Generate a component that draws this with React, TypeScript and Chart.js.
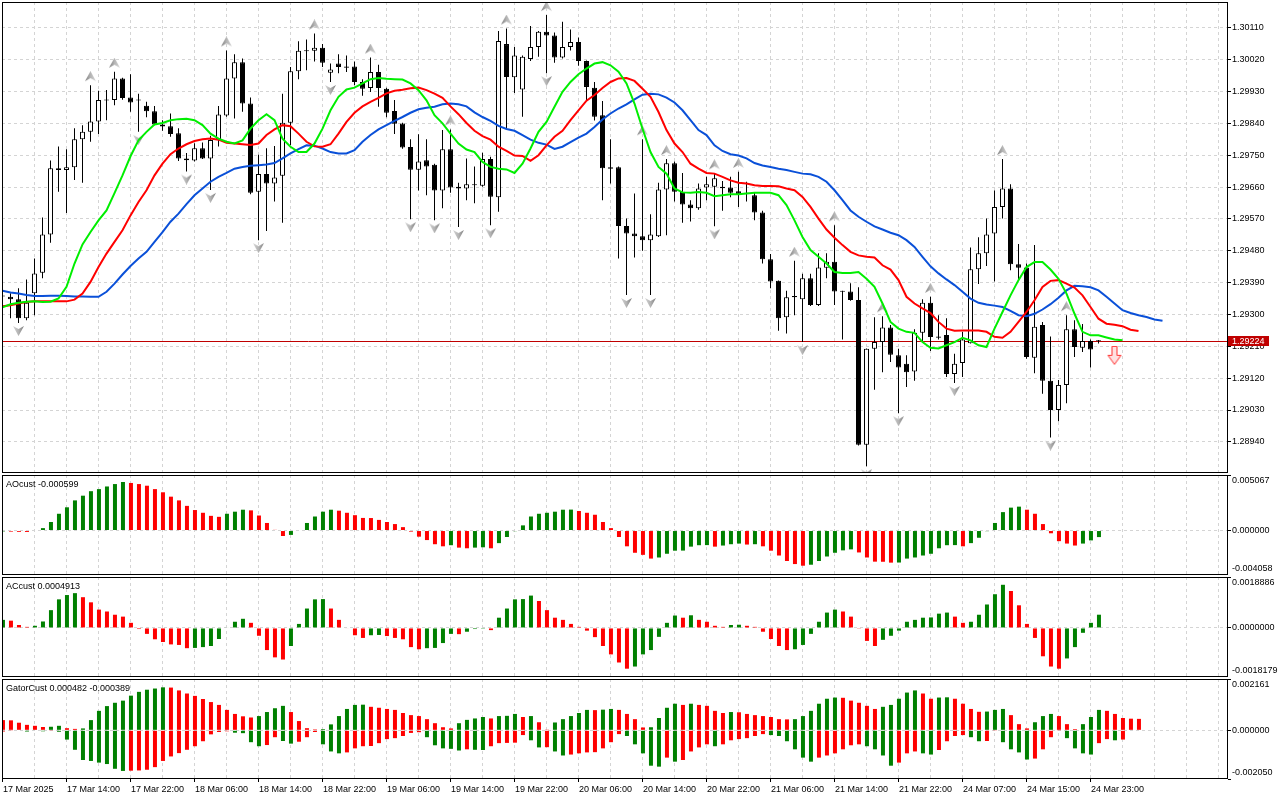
import React, { useEffect, useRef } from "react";
import { Chart, registerables } from "chart.js";

Chart.register(...registerables);

// ---------------- data ----------------
const timeLabels = [
  "17 Mar 2025", "17 Mar 14:00", "17 Mar 22:00", "18 Mar 06:00", "18 Mar 14:00", "18 Mar 22:00",
  "19 Mar 06:00", "19 Mar 14:00", "19 Mar 22:00", "20 Mar 06:00", "20 Mar 14:00", "20 Mar 22:00",
  "21 Mar 06:00", "21 Mar 14:00", "21 Mar 22:00", "24 Mar 07:00", "24 Mar 15:00", "24 Mar 23:00",
];
const labelEvery = 8;
const gridEvery = 4;

const open = [
  1.29353, 1.29350, 1.29343, 1.29289, 1.29360, 1.29418, 1.29526, 1.29713, 1.29708, 1.29716,
  1.29795, 1.29816, 1.29845, 1.29907, 1.29906, 1.29967, 1.29913, 1.29907, 1.29890, 1.29874,
  1.29837, 1.29832, 1.29812, 1.29741, 1.29735, 1.29770, 1.29741, 1.29793, 1.29862, 1.29967,
  1.30013, 1.29896, 1.29647, 1.29697, 1.29670, 1.29692, 1.29842, 1.29987, 1.30046, 1.30045,
  1.30054, 1.29983, 1.30009, 1.30001, 1.30001, 1.29957, 1.29940, 1.29985, 1.29938, 1.29875,
  1.29840, 1.29773, 1.29709, 1.29736, 1.29723, 1.29650, 1.29767, 1.29661, 1.29656, 1.29668,
  1.29664, 1.29739, 1.29631, 1.30064, 1.29970, 1.29936, 1.30022, 1.30056, 1.30099, 1.30088,
  1.30026, 1.30056, 1.30070, 1.30016, 1.29941, 1.29863, 1.29716, 1.29716, 1.29550, 1.29529,
  1.29521, 1.29510, 1.29521, 1.29653, 1.29727, 1.29647, 1.29611, 1.29600, 1.29659, 1.29661,
  1.29661, 1.29659, 1.29648, 1.29644, 1.29637, 1.29588, 1.29456, 1.29395, 1.29292, 1.29352,
  1.29343, 1.29402, 1.29327, 1.29432, 1.29449, 1.29366, 1.29365, 1.29341, 1.28932, 1.29203,
  1.29222, 1.29263, 1.29185, 1.29161, 1.29139, 1.29248, 1.29333, 1.29238, 1.29242, 1.29132,
  1.29163, 1.29219, 1.29428, 1.29473, 1.29529, 1.29604, 1.29656, 1.29442, 1.29433, 1.29178,
  1.29270, 1.29113, 1.29030, 1.29101, 1.29258, 1.29206, 1.29225, 1.29226,
];
const high = [
  1.29358, 1.29360, 1.29374, 1.29399, 1.29458, 1.29574, 1.29735, 1.29775, 1.29767, 1.29826,
  1.29835, 1.29948, 1.29932, 1.29934, 1.29986, 1.29969, 1.29979, 1.29924, 1.29901, 1.29889,
  1.29849, 1.29868, 1.29826, 1.29756, 1.29784, 1.29786, 1.29805, 1.29889, 1.30046, 1.30035,
  1.30023, 1.29913, 1.29751, 1.29770, 1.29776, 1.29924, 1.29999, 1.30072, 1.30077, 1.30094,
  1.30064, 1.30009, 1.30035, 1.30032, 1.30015, 1.29965, 1.30026, 1.30006, 1.29941, 1.29906,
  1.29842, 1.29795, 1.29809, 1.29795, 1.29726, 1.29821, 1.29823, 1.29672, 1.29741, 1.29718,
  1.29757, 1.29746, 1.30101, 1.30108, 1.30056, 1.30032, 1.30115, 1.30101, 1.30146, 1.30097,
  1.30127, 1.30105, 1.30083, 1.30018, 1.29957, 1.29903, 1.29795, 1.29718, 1.29571, 1.29642,
  1.29795, 1.29583, 1.29672, 1.29739, 1.29732, 1.29700, 1.29623, 1.29670, 1.29689, 1.29699,
  1.29677, 1.29689, 1.29703, 1.29675, 1.29644, 1.29593, 1.29471, 1.29396, 1.29367, 1.29452,
  1.29415, 1.29415, 1.29473, 1.29473, 1.29552, 1.29367, 1.29388, 1.29377, 1.29204, 1.29292,
  1.29295, 1.29270, 1.29203, 1.29185, 1.29258, 1.29343, 1.29350, 1.29298, 1.29289, 1.29189,
  1.29251, 1.29489, 1.29518, 1.29571, 1.29650, 1.29739, 1.29668, 1.29499, 1.29444, 1.29496,
  1.29279, 1.29238, 1.29115, 1.29298, 1.29284, 1.29273, 1.29229, 1.29228,
];
const low = [
  1.29347, 1.29289, 1.29276, 1.29284, 1.29298, 1.29402, 1.29503, 1.29647, 1.29587, 1.29680,
  1.29672, 1.29788, 1.29810, 1.29849, 1.29891, 1.29907, 1.29873, 1.29816, 1.29857, 1.29835,
  1.29819, 1.29802, 1.29734, 1.29704, 1.29732, 1.29739, 1.29652, 1.29775, 1.29859, 1.29854,
  1.29873, 1.29640, 1.29510, 1.29536, 1.29619, 1.29559, 1.29779, 1.29965, 1.29990, 1.30015,
  1.29999, 1.29957, 1.29982, 1.29985, 1.29948, 1.29918, 1.29929, 1.29887, 1.29857, 1.29810,
  1.29768, 1.29569, 1.29650, 1.29637, 1.29566, 1.29600, 1.29644, 1.29547, 1.29623, 1.29614,
  1.29661, 1.29552, 1.29590, 1.29821, 1.29926, 1.29859, 1.30016, 1.30028, 1.29982, 1.30011,
  1.30023, 1.30046, 1.30003, 1.29906, 1.29848, 1.29623, 1.29670, 1.29458, 1.29355, 1.29461,
  1.29480, 1.29355, 1.29519, 1.29524, 1.29619, 1.29559, 1.29563, 1.29596, 1.29623, 1.29549,
  1.29593, 1.29631, 1.29604, 1.29619, 1.29566, 1.29444, 1.29374, 1.29254, 1.29246, 1.29298,
  1.29222, 1.29324, 1.29324, 1.29402, 1.29327, 1.29229, 1.29339, 1.28930, 1.28871, 1.29087,
  1.29137, 1.29166, 1.29021, 1.29095, 1.29113, 1.29222, 1.29197, 1.29229, 1.29123, 1.29106,
  1.29123, 1.29218, 1.29386, 1.29437, 1.29393, 1.29571, 1.29425, 1.29399, 1.29175, 1.29134,
  1.29076, 1.28952, 1.28998, 1.29049, 1.29180, 1.29194, 1.29150, 1.29218,
];
const close = [
  1.29351, 1.29343, 1.29289, 1.29333, 1.29416, 1.29526, 1.29713, 1.29708, 1.29716, 1.29795,
  1.29816, 1.29845, 1.29906, 1.29905, 1.29967, 1.29912, 1.29899, 1.29905, 1.29874, 1.29837,
  1.29831, 1.29810, 1.29741, 1.29736, 1.29770, 1.29741, 1.29793, 1.29865, 1.29967, 1.30013,
  1.29896, 1.29644, 1.29697, 1.29670, 1.29687, 1.29842, 1.29987, 1.30045, 1.30044, 1.30054,
  1.30011, 1.29992, 1.29999, 1.29997, 1.29957, 1.29938, 1.29985, 1.29940, 1.29870, 1.29839,
  1.29772, 1.29709, 1.29732, 1.29718, 1.29650, 1.29767, 1.29659, 1.29656, 1.29668, 1.29665,
  1.29739, 1.29633, 1.30073, 1.29971, 1.30032, 1.30028, 1.30056, 1.30099, 1.30088, 1.30026,
  1.30056, 1.30070, 1.30016, 1.29943, 1.29859, 1.29713, 1.29712, 1.29550, 1.29529, 1.29521,
  1.29510, 1.29526, 1.29653, 1.29727, 1.29647, 1.29611, 1.29600, 1.29656, 1.29668, 1.29685,
  1.29657, 1.29644, 1.29640, 1.29641, 1.29588, 1.29456, 1.29393, 1.29289, 1.29349, 1.29349,
  1.29402, 1.29327, 1.29433, 1.29449, 1.29365, 1.29364, 1.29341, 1.28932, 1.29203, 1.29222,
  1.29263, 1.29186, 1.29150, 1.29137, 1.29248, 1.29333, 1.29236, 1.29234, 1.29132, 1.29161,
  1.29229, 1.29428, 1.29473, 1.29526, 1.29604, 1.29656, 1.29442, 1.29432, 1.29180, 1.29265,
  1.29113, 1.29030, 1.29101, 1.29258, 1.29208, 1.29225, 1.29201, 1.29224,
];

// Alligator (already shifted: jaw +8, teeth +5, lips +3 bars)
const jaw = [
  1.29367, 1.29362, 1.29359, 1.29355, 1.29352, 1.29352, 1.29353, 1.29353, 1.29352, 1.29351,
  1.29351, 1.29350, 1.29350, 1.29364, 1.29387, 1.29413, 1.29437, 1.29458, 1.29477, 1.29505,
  1.29533, 1.29562, 1.29585, 1.29612, 1.29637, 1.29656, 1.29675, 1.29689, 1.29700, 1.29712,
  1.29717, 1.29720, 1.29722, 1.29724, 1.29728, 1.29741, 1.29755, 1.29767, 1.29778, 1.29777,
  1.29769, 1.29759, 1.29755, 1.29755, 1.29764, 1.29788, 1.29807, 1.29823, 1.29835, 1.29847,
  1.29858, 1.29870, 1.29880, 1.29884, 1.29887, 1.29894, 1.29896, 1.29894, 1.29888, 1.29871,
  1.29858, 1.29847, 1.29833, 1.29824, 1.29819, 1.29807, 1.29794, 1.29785, 1.29780, 1.29768,
  1.29774, 1.29787, 1.29800, 1.29811, 1.29830, 1.29851, 1.29868, 1.29882, 1.29894, 1.29908,
  1.29921, 1.29924, 1.29922, 1.29913, 1.29899, 1.29877, 1.29849, 1.29821, 1.29807, 1.29778,
  1.29762, 1.29753, 1.29749, 1.29741, 1.29728, 1.29721, 1.29717, 1.29712, 1.29708, 1.29703,
  1.29698, 1.29696, 1.29689, 1.29675, 1.29651, 1.29623, 1.29594, 1.29576, 1.29562, 1.29549,
  1.29540, 1.29531, 1.29524, 1.29510, 1.29491, 1.29463, 1.29436, 1.29416, 1.29399, 1.29383,
  1.29364, 1.29345, 1.29333, 1.29328, 1.29325, 1.29321, 1.29310, 1.29298, 1.29295, 1.29302,
  1.29314, 1.29329, 1.29347, 1.29368, 1.29381, 1.29380, 1.29377, 1.29368, 1.29350, 1.29331,
  1.29312, 1.29304, 1.29298, 1.29293, 1.29286, 1.29282,
];
const teeth = [
  1.29323, 1.29326, 1.29331, 1.29335, 1.29337, 1.29337, 1.29337, 1.29337, 1.29337, 1.29342,
  1.29359, 1.29392, 1.29434, 1.29472, 1.29505, 1.29538, 1.29580, 1.29618, 1.29651, 1.29693,
  1.29726, 1.29753, 1.29769, 1.29781, 1.29790, 1.29795, 1.29797, 1.29794, 1.29785, 1.29783,
  1.29781, 1.29779, 1.29783, 1.29807, 1.29823, 1.29835, 1.29832, 1.29811, 1.29788, 1.29775,
  1.29774, 1.29781, 1.29811, 1.29844, 1.29870, 1.29888, 1.29901, 1.29912, 1.29925, 1.29932,
  1.29935, 1.29939, 1.29941, 1.29934, 1.29924, 1.29912, 1.29888, 1.29866, 1.29841, 1.29819,
  1.29804, 1.29794, 1.29774, 1.29762, 1.29749, 1.29748, 1.29734, 1.29750, 1.29778, 1.29802,
  1.29819, 1.29849, 1.29877, 1.29904, 1.29920, 1.29940, 1.29957, 1.29967, 1.29968, 1.29960,
  1.29938, 1.29915, 1.29872, 1.29821, 1.29783, 1.29759, 1.29726, 1.29712, 1.29700, 1.29698,
  1.29689, 1.29679, 1.29672, 1.29670, 1.29665, 1.29663, 1.29663, 1.29662, 1.29656, 1.29651,
  1.29632, 1.29604, 1.29571, 1.29540, 1.29517, 1.29496, 1.29477, 1.29467, 1.29463, 1.29461,
  1.29439, 1.29427, 1.29397, 1.29350, 1.29331, 1.29317, 1.29304, 1.29279, 1.29260, 1.29254,
  1.29255, 1.29255, 1.29255, 1.29251, 1.29237, 1.29234, 1.29251, 1.29279, 1.29307, 1.29340,
  1.29378, 1.29395, 1.29397, 1.29387, 1.29376, 1.29354, 1.29321, 1.29288, 1.29274, 1.29271,
  1.29267, 1.29257, 1.29253,
];
const lips = [
  1.29320, 1.29329, 1.29333, 1.29336, 1.29337, 1.29335, 1.29336, 1.29345, 1.29378, 1.29444,
  1.29498, 1.29533, 1.29566, 1.29594, 1.29643, 1.29693, 1.29747, 1.29792, 1.29816, 1.29837,
  1.29841, 1.29849, 1.29852, 1.29853, 1.29849, 1.29835, 1.29811, 1.29797, 1.29788, 1.29783,
  1.29792, 1.29825, 1.29849, 1.29866, 1.29849, 1.29797, 1.29774, 1.29759, 1.29759, 1.29783,
  1.29825, 1.29877, 1.29915, 1.29936, 1.29941, 1.29953, 1.29965, 1.29968, 1.29966, 1.29965,
  1.29964, 1.29953, 1.29934, 1.29905, 1.29863, 1.29840, 1.29811, 1.29783, 1.29766, 1.29759,
  1.29731, 1.29717, 1.29712, 1.29710, 1.29700, 1.29726, 1.29769, 1.29816, 1.29844, 1.29887,
  1.29929, 1.29957, 1.29979, 1.29995, 1.30009, 1.30013, 1.30004, 1.29986, 1.29953, 1.29896,
  1.29825, 1.29759, 1.29717, 1.29698, 1.29656, 1.29645, 1.29644, 1.29646, 1.29644, 1.29634,
  1.29637, 1.29640, 1.29640, 1.29642, 1.29644, 1.29644, 1.29644, 1.29637, 1.29609, 1.29566,
  1.29519, 1.29482, 1.29463, 1.29444, 1.29420, 1.29417, 1.29417, 1.29420, 1.29401, 1.29378,
  1.29331, 1.29279, 1.29260, 1.29251, 1.29248, 1.29222, 1.29206, 1.29204, 1.29213, 1.29222,
  1.29234, 1.29227, 1.29213, 1.29208, 1.29260, 1.29307, 1.29354, 1.29397, 1.29434, 1.29448,
  1.29448, 1.29427, 1.29401, 1.29359, 1.29302, 1.29251, 1.29241, 1.29241, 1.29235, 1.29229,
  1.29227,
];

const upFractals = [11, 14, 28, 39, 46, 56, 63, 68, 80, 83, 89, 92, 99, 104, 110, 116, 125, 133];
const downFractals = [2, 17, 23, 26, 32, 41, 51, 54, 57, 61, 68, 78, 81, 89, 100, 108, 112, 119, 131];
const signalBars = [139];
const signalPrices = [1.29183];
const currentPrice = 1.29224;

const priceRange = [1.28852, 1.30183];
const priceTicks = [
  1.2894, 1.2903, 1.2912, 1.2921, 1.293, 1.2939, 1.2948, 1.2957, 1.2966, 1.2975, 1.2984, 1.2993, 1.3002, 1.3011,
];

const aoValues = [
  -0.00008, -0.0001, -0.00012, -0.00013, 0.00005, 0.00022, 0.00078, 0.00153, 0.00212, 0.00275,
  0.00318, 0.00359, 0.00378, 0.00402, 0.00424, 0.00443, 0.00434, 0.00424, 0.00409, 0.00378,
  0.00349, 0.00309, 0.00275, 0.00225, 0.00187, 0.00162, 0.00134, 0.00125, 0.00153, 0.00172,
  0.0019, 0.00184, 0.00137, 0.00069, 0.00006, -0.0005, -0.0004, 0.00005, 0.00069, 0.00128,
  0.00172, 0.0019, 0.00181, 0.00162, 0.0014, 0.00115, 0.00114, 0.00097, 0.00078, 0.00059,
  0.00031, -0.0001, -0.00056, -0.00087, -0.00125, -0.00144, -0.00134, -0.00156, -0.00162, -0.00156,
  -0.00153, -0.00162, -0.00115, -0.00059, -0.00006, 0.00047, 0.00128, 0.00153, 0.00162, 0.00172,
  0.0019, 0.00191, 0.00178, 0.00162, 0.00144, 0.00078, 0.00022, -0.00059, -0.00144, -0.00203,
  -0.00222, -0.00256, -0.00246, -0.00212, -0.00184, -0.00183, -0.00147, -0.00134, -0.00133, -0.00147,
  -0.00137, -0.00125, -0.00119, -0.00128, -0.00125, -0.00144, -0.00184, -0.00228, -0.00278, -0.00306,
  -0.00321, -0.00312, -0.00278, -0.00237, -0.00203, -0.00181, -0.00172, -0.002, -0.00246, -0.00284,
  -0.00285, -0.00293, -0.00292, -0.00256, -0.00246, -0.00228, -0.00212, -0.00162, -0.00134, -0.00133,
  -0.00144, -0.00115, -0.00066, -0.00006, 0.00069, 0.00168, 0.00209, 0.00218, 0.0019, 0.00153,
  0.00059, -0.00025, -0.00097, -0.00119, -0.00137, -0.00119, -0.0009, -0.000599,
];
const aoRange = [-0.004058, 0.005067];

const acValues = [
  0.0003, 0.00027, 0.00011, 0.00004, 0.00008, 0.00024, 0.00066, 0.00106, 0.00122, 0.00129,
  0.00114, 0.00095, 0.00068, 0.00061, 0.00049, 0.00042, 0.00019, -0.00004, -0.00022, -0.00042,
  -0.00052, -0.00061, -0.00063, -0.00075, -0.00074, -0.00071, -0.00067, -0.00041, 0.00002, 0.00023,
  0.00034, 0.00019, -0.00029, -0.00082, -0.00109, -0.00117, -0.00067, 0.00015, 0.00072, 0.00106,
  0.00107, 0.00072, 0.0003, -0.00002, -0.00027, -0.00037, -0.00027, -0.00026, -0.0003, -0.00037,
  -0.00042, -0.00071, -0.00079, -0.00075, -0.00074, -0.00056, -0.00022, -0.00023, -0.00014, -0.00004,
  -0.00003, -0.00008, 0.00038, 0.00072, 0.00106, 0.00107, 0.0012, 0.001, 0.00066, 0.00038,
  0.0003, 0.00015, 0.00004, -0.0001, -0.00034, -0.00067, -0.00098, -0.00128, -0.00151, -0.00143,
  -0.00098, -0.00082, -0.00033, 0.00019, 0.00046, 0.00038, 0.00047, 0.0003, 0.00023, 0.00008,
  0.00004, 0.00011, 0.00012, 0.00008, 0.00004, -0.00014, -0.00041, -0.00067, -0.00082, -0.00079,
  -0.00063, -0.00022, 0.00023, 0.00057, 0.00068, 0.00061, 0.00042, -0.00001, -0.00048, -0.00067,
  -0.00044, -0.00029, -0.0001, 0.00023, 0.0003, 0.00038, 0.00039, 0.00053, 0.00057, 0.00042,
  0.00019, 0.00023, 0.00049, 0.00087, 0.00125, 0.0016, 0.00137, 0.00084, 0.00015, -0.00037,
  -0.00105, -0.00143, -0.00151, -0.00113, -0.00071, -0.00018, 0.00019, 0.0004913,
];
const acRange = [-0.0018179, 0.0018886];

const gatorUpper = [
  0.00043, 0.00042, 0.00032, 0.00023, 0.00019, 0.00014, 0.00015, 0.00019, 0.00009, 0.00006,
  0.00008, 0.00043, 0.00082, 0.00102, 0.00116, 0.00125, 0.00146, 0.00162, 0.00171, 0.00176,
  0.00181, 0.0018, 0.00168, 0.00155, 0.00145, 0.00132, 0.00119, 0.00107, 0.00086, 0.00069,
  0.00059, 0.00054, 0.0006, 0.00077, 0.00093, 0.00103, 0.00077, 0.00039, 0.00009, 0.00004,
  0.00005, 0.00025, 0.0006, 0.0009, 0.00107, 0.00108, 0.00099, 0.00095, 0.0009, 0.00086,
  0.00073, 0.00064, 0.0006, 0.00047, 0.0003, 0.00013, 0.00008, 0.0003, 0.00044, 0.0005,
  0.00056, 0.0005, 0.0006, 0.00061, 0.00069, 0.00056, 0.0006, 0.00034, 0.00003, 0.00033,
  0.00047, 0.0006, 0.00073, 0.00086, 0.00085, 0.00087, 0.0009, 0.00086, 0.00069, 0.00047,
  0.00012, 0.00013, 0.00052, 0.00095, 0.00112, 0.00107, 0.00112, 0.00107, 0.00103, 0.00082,
  0.00073, 0.00077, 0.00076, 0.00069, 0.00064, 0.0006, 0.00056, 0.00047, 0.00046, 0.00047,
  0.0006, 0.00082, 0.00112, 0.00133, 0.00138, 0.00137, 0.00125, 0.00116, 0.00103, 0.0009,
  0.00099, 0.00107, 0.00133, 0.00159, 0.00168, 0.00155, 0.00133, 0.00138, 0.00139, 0.00133,
  0.00112, 0.0009, 0.00078, 0.00079, 0.00086, 0.0009, 0.00064, 0.00026, 0.00008, 0.00034,
  0.0006, 0.00069, 0.0006, 0.00026, 0.00005, 0.00026, 0.00056, 0.00086, 0.00082, 0.00069,
  0.00052, 0.00049, 0.000482,
];
const gatorLower = [
  -0.00005, -0.00003, -0.00002, -0.00005, -0.00002, -0.00004, -0.00003, -0.00006, -0.00039, -0.00082,
  -0.00125, -0.00129, -0.00136, -0.00142, -0.00162, -0.00171, -0.0017, -0.00169, -0.00166, -0.00155,
  -0.00129, -0.0011, -0.00096, -0.00082, -0.00067, -0.00046, -0.00017, -0.00007, -0.00004, -0.0001,
  -0.00012, -0.0005, -0.00067, -0.00062, -0.00029, -0.00045, -0.00056, -0.00048, -0.00029, -0.00007,
  -0.00059, -0.00089, -0.00097, -0.00093, -0.00076, -0.00067, -0.00066, -0.00054, -0.00037, -0.00033,
  -0.00024, -0.00011, -0.00008, -0.00029, -0.00063, -0.00076, -0.00078, -0.00085, -0.0008, -0.00082,
  -0.00083, -0.00067, -0.00054, -0.00053, -0.00052, -0.0002, -0.00042, -0.00072, -0.00071, -0.00089,
  -0.00106, -0.00102, -0.00097, -0.00093, -0.00092, -0.00076, -0.0005, -0.00016, -0.00024, -0.00059,
  -0.00097, -0.00149, -0.00153, -0.00115, -0.00132, -0.00125, -0.00089, -0.00072, -0.00059, -0.00067,
  -0.00059, -0.00042, -0.00037, -0.00033, -0.00024, -0.00016, -0.0002, -0.00024, -0.00046, -0.0008,
  -0.00115, -0.00132, -0.00115, -0.00106, -0.00097, -0.0008, -0.00063, -0.00059, -0.00067, -0.0008,
  -0.00106, -0.00149, -0.00136, -0.00097, -0.00089, -0.00097, -0.00102, -0.00083, -0.00046, -0.00024,
  -0.0002, -0.00029, -0.00046, -0.00045, -0.00003, -0.0005, -0.0008, -0.00093, -0.00123, -0.00119,
  -0.0008, -0.00029, -0.00003, -0.00033, -0.00076, -0.00097, -0.00102, -0.00054, -0.00037, -0.00042,
  -0.000389,
];
const gatorRange = [-0.00205, 0.002161];

// ---------------- style ----------------
const FONT = "'Liberation Sans', Arial, sans-serif";
const GRID = "#d4d4d4";
const DASH = [3, 3];
const GREEN = "#008000";
const RED = "#ff0000";
const BID = "#c00000";
const AXIS_W = 52;
const SPAN = 153.25; // bars visible across the plot width (8 px per bar)
const MAIN_X_MIN = -0.0625;
const IND_X_MIN = -0.12;

const pts = (vals: number[]) => vals.map((y, i) => ({ x: i, y }));

function noPad(s: any) {
  s.paddingTop = 0;
  s.paddingBottom = 0;
  s.paddingLeft = 0;
  s.paddingRight = 0;
}

function xAxis(min: number, withLabels: boolean) {
  const labelAt = (v: number) => {
    if (v % labelEvery !== 0) return "";
    const k = v / labelEvery;
    return k >= 0 && k < timeLabels.length ? timeLabels[k] : "";
  };
  return {
    type: "linear",
    min,
    max: min + SPAN,
    offset: false,
    afterBuildTicks: (s: any) => {
      const t: any[] = [];
      for (let v = 0; v <= min + SPAN; v += gridEvery) t.push({ value: v });
      s.ticks = t;
    },
    afterFit: (s: any) => {
      noPad(s);
      s.height = withLabels ? 21 : 0;
    },
    grid: {
      offset: false,
      color: GRID,
      lineWidth: 1,
      drawTicks: withLabels,
      tickLength: 3,
      tickColor: (c: any) => (c.tick && labelAt(c.tick.value) ? "#000" : "rgba(0,0,0,0)"),
    },
    border: { display: false, dash: DASH },
    ticks: {
      display: withLabels,
      autoSkip: false,
      maxRotation: 0,
      minRotation: 0,
      align: "start",
      padding: 2,
      color: "#000",
      font: { family: FONT, size: 9 },
      callback: (v: number) => labelAt(v),
    },
  };
}

function indicatorY(range: number[], decimals: number) {
  return {
    position: "right",
    min: range[0],
    max: range[1],
    afterBuildTicks: (s: any) => {
      s.ticks = [{ value: range[0] }, { value: 0 }, { value: range[1] }];
    },
    afterFit: (s: any) => {
      noPad(s);
      s.width = AXIS_W;
    },
    grid: {
      color: (c: any) => (c.tick && c.tick.value === 0 ? GRID : "rgba(0,0,0,0)"),
      tickLength: 3,
      tickColor: "#000",
    },
    border: { display: false, dash: DASH },
    ticks: {
      autoSkip: false,
      padding: 1,
      color: "#000",
      font: { family: FONT, size: 9, lineHeight: "12px" },
      callback: (v: number) => {
        const s = v.toFixed(decimals);
        if (v === range[1]) return ["", s];
        if (v === range[0]) return [s, ""];
        return s;
      },
    },
  };
}

function strokeFrame(ctx: CanvasRenderingContext2D, a: any) {
  ctx.save();
  ctx.strokeStyle = "#000";
  ctx.lineWidth = 1;
  ctx.strokeRect(a.left + 0.5, a.top + 0.5, a.right - a.left - 1, a.bottom - a.top - 1);
  ctx.restore();
}

function framePlugin(title: string) {
  return {
    id: "paneFrame",
    afterDraw(chart: any) {
      const { ctx, chartArea: a } = chart;
      strokeFrame(ctx, a);
      ctx.save();
      ctx.fillStyle = "#000";
      ctx.font = `9px ${FONT}`;
      ctx.textBaseline = "middle";
      ctx.textAlign = "left";
      ctx.fillText(title, a.left + 4, a.top + 9.5);
      ctx.restore();
    },
  };
}

function makeArrow(kind: "up" | "down" | "signal"): HTMLCanvasElement {
  const c = document.createElement("canvas");
  const g = c.getContext("2d") as CanvasRenderingContext2D;
  if (kind === "up") {
    c.width = 11; c.height = 28;
    const grad = g.createLinearGradient(0, 0, 11, 0);
    grad.addColorStop(0, "#7c7c7c"); grad.addColorStop(0.5, "#b4b4b4"); grad.addColorStop(1, "#d4d4d4");
    g.fillStyle = grad;
    g.beginPath(); g.moveTo(5.5, 0); g.lineTo(11, 10); g.lineTo(5.5, 7); g.lineTo(0, 10); g.closePath(); g.fill();
  } else if (kind === "down") {
    c.width = 11; c.height = 26;
    const grad = g.createLinearGradient(0, 0, 11, 0);
    grad.addColorStop(0, "#d4d4d4"); grad.addColorStop(0.5, "#b4b4b4"); grad.addColorStop(1, "#7c7c7c");
    g.fillStyle = grad;
    g.beginPath(); g.moveTo(0, 16); g.lineTo(5.5, 19); g.lineTo(11, 16); g.lineTo(5.5, 26); g.closePath(); g.fill();
  } else {
    c.width = 16; c.height = 20;
    g.fillStyle = "#ffe2e2";
    g.strokeStyle = "#ff3030";
    g.lineWidth = 1;
    g.beginPath();
    g.moveTo(5.5, 0.5); g.lineTo(10.5, 0.5); g.lineTo(10.5, 9.5); g.lineTo(14.5, 9.5);
    g.lineTo(8, 18.5); g.lineTo(1.5, 9.5); g.lineTo(5.5, 9.5); g.closePath();
    g.fill(); g.stroke();
  }
  return c;
}

const upColors = (vals: number[], firstUp: boolean) =>
  vals.map((v, i) => ((i === 0 ? firstUp : v >= vals[i - 1]) ? GREEN : RED));
const growColors = (vals: number[], firstUp: boolean) =>
  vals.map((v, i) => ((i === 0 ? firstUp : Math.abs(v) >= Math.abs(vals[i - 1])) ? GREEN : RED));

const commonOpts = {
  responsive: false,
  animation: false,
  events: [],
  plugins: { legend: { display: false }, tooltip: { enabled: false }, title: { display: false } },
};

export default function App() {
  const mainRef = useRef<HTMLCanvasElement>(null);
  const aoRef = useRef<HTMLCanvasElement>(null);
  const acRef = useRef<HTMLCanvasElement>(null);
  const gatorRef = useRef<HTMLCanvasElement>(null);

  useEffect(() => {
    const charts: Chart[] = [];
    const idx = open.map((_, i) => i);
    const upArrow = makeArrow("up");
    const downArrow = makeArrow("down");
    const signalArrow = makeArrow("signal");

    const mainDecor = {
      id: "mainDecor",
      beforeDatasetsDraw(chart: any) {
        const { ctx, chartArea: a, scales } = chart;
        const y = Math.round(scales.y.getPixelForValue(currentPrice)) + 0.5;
        ctx.save();
        ctx.strokeStyle = BID;
        ctx.lineWidth = 1;
        ctx.beginPath(); ctx.moveTo(a.left, y); ctx.lineTo(a.right, y); ctx.stroke();
        ctx.restore();
      },
      afterDraw(chart: any) {
        const { ctx, chartArea: a, scales } = chart;
        strokeFrame(ctx, a);
        const y = Math.round(scales.y.getPixelForValue(currentPrice));
        ctx.save();
        ctx.fillStyle = BID;
        ctx.fillRect(a.right, y - 5, 41, 10);
        ctx.fillStyle = "#fff";
        ctx.font = `9px ${FONT}`;
        ctx.textBaseline = "middle";
        ctx.textAlign = "left";
        ctx.fillText(currentPrice.toFixed(5), a.right + 4, y + 0.5);
        ctx.restore();
      },
    };

    if (mainRef.current) {
      charts.push(new Chart(mainRef.current, {
        type: "bar",
        data: {
          datasets: [
            { type: "line", data: pts(lips), borderColor: "#00ee00", borderWidth: 2, pointRadius: 0, tension: 0, order: 0 },
            { type: "line", data: pts(teeth), borderColor: "#ff0000", borderWidth: 2, pointRadius: 0, tension: 0, order: 1 },
            { type: "line", data: pts(jaw), borderColor: "#0a50d8", borderWidth: 2, pointRadius: 0, tension: 0, order: 2 },
            {
              type: "bar", order: 3, grouped: false,
              data: idx.map((i) => ({ x: i, y: [open[i], close[i]] })),
              backgroundColor: idx.map((i) => (close[i] >= open[i] ? "#ffffff" : "#000000")),
              borderColor: "#000", borderWidth: 1, borderSkipped: false, barThickness: 5, minBarLength: 1, inflateAmount: 0,
            },
            {
              type: "bar", order: 4, grouped: false,
              data: idx.map((i) => ({ x: i, y: [low[i], high[i]] })),
              backgroundColor: "#000", borderWidth: 0, barThickness: 1, inflateAmount: 0,
            },
            {
              type: "line", order: 5, showLine: false, pointStyle: upArrow, pointRadius: 5,
              data: upFractals.map((i) => ({ x: i, y: high[i] })),
            },
            {
              type: "line", order: 5, showLine: false, pointStyle: downArrow, pointRadius: 5,
              data: downFractals.map((i) => ({ x: i, y: low[i] })),
            },
            {
              type: "line", order: 5, showLine: false, pointStyle: signalArrow, pointRadius: 5,
              data: signalBars.map((b, k) => ({ x: b, y: signalPrices[k] })),
            },
          ],
        },
        options: {
          ...commonOpts,
          layout: { autoPadding: false, padding: { left: 2, top: 2, bottom: 1, right: 0 } },
          scales: {
            x: xAxis(MAIN_X_MIN, false),
            y: {
              position: "right",
              min: priceRange[0],
              max: priceRange[1],
              afterBuildTicks: (s: any) => { s.ticks = priceTicks.map((value) => ({ value })); },
              afterFit: (s: any) => { noPad(s); s.width = AXIS_W; },
              grid: { color: GRID, tickLength: 3, tickColor: "#000" },
              border: { display: false, dash: DASH },
              ticks: {
                autoSkip: false, padding: 1, color: "#000",
                font: { family: FONT, size: 9 },
                callback: (v: number) => v.toFixed(5),
              },
            },
          },
        },
        plugins: [mainDecor],
      } as any));
    }

    const histogram = (vals: number[], colors: string[]) => ({
      type: "bar", grouped: false, data: pts(vals), backgroundColor: colors,
      borderWidth: 0, barThickness: 4, inflateAmount: 0,
    });

    if (aoRef.current) {
      charts.push(new Chart(aoRef.current, {
        type: "bar",
        data: { datasets: [histogram(aoValues, upColors(aoValues, true))] },
        options: {
          ...commonOpts,
          layout: { autoPadding: false, padding: { left: 2, top: 0, bottom: 0, right: 0 } },
          scales: { x: xAxis(IND_X_MIN, false), y: indicatorY(aoRange, 6) },
        },
        plugins: [framePlugin("AOcust " + aoValues[aoValues.length - 1].toFixed(6))],
      } as any));
    }

    if (acRef.current) {
      charts.push(new Chart(acRef.current, {
        type: "bar",
        data: { datasets: [histogram(acValues, upColors(acValues, true))] },
        options: {
          ...commonOpts,
          layout: { autoPadding: false, padding: { left: 2, top: 0, bottom: 0, right: 0 } },
          scales: { x: xAxis(IND_X_MIN, false), y: indicatorY(acRange, 7) },
        },
        plugins: [framePlugin("ACcust " + acValues[acValues.length - 1].toFixed(7))],
      } as any));
    }

    if (gatorRef.current) {
      charts.push(new Chart(gatorRef.current, {
        type: "bar",
        data: {
          datasets: [
            histogram(gatorUpper, upColors(gatorUpper, false)),
            histogram(gatorLower, growColors(gatorLower, false)),
          ],
        },
        options: {
          ...commonOpts,
          layout: { autoPadding: false, padding: { left: 2, top: 0, bottom: 0, right: 0 } },
          scales: { x: xAxis(IND_X_MIN, true), y: indicatorY(gatorRange, 6) },
        },
        plugins: [framePlugin(
          "GatorCust " + gatorUpper[gatorUpper.length - 1].toFixed(6) + " " + gatorLower[gatorLower.length - 1].toFixed(6)
        )],
      } as any));
    }

    return () => charts.forEach((c) => c.destroy());
  }, []);

  const pos = (top: number, h: number): React.CSSProperties => ({
    position: "absolute", left: 0, top, width: 1280, height: h, display: "block",
  });

  return (
    <div style={{ position: "fixed", left: 0, top: 0, width: 1280, height: 800, background: "#fff", overflow: "hidden" }}>
      <canvas ref={mainRef} width={1280} height={474} style={pos(0, 474)} />
      <canvas ref={aoRef} width={1280} height={100} style={pos(475, 100)} />
      <canvas ref={acRef} width={1280} height={100} style={pos(577, 100)} />
      <canvas ref={gatorRef} width={1280} height={121} style={pos(679, 121)} />
    </div>
  );
}
